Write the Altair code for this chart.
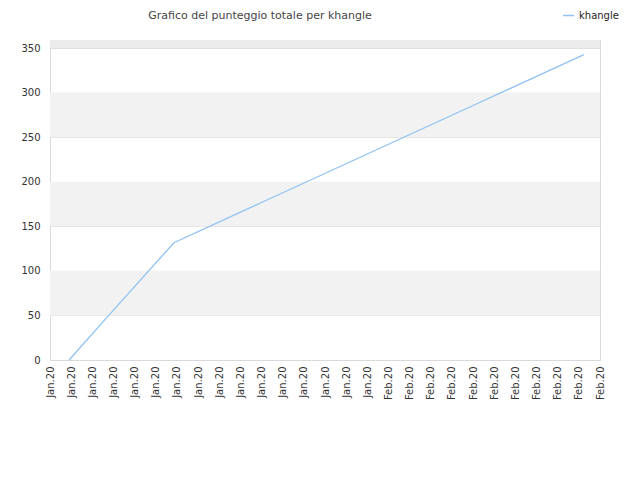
import altair as alt
import pandas as pd

# Data (x in tick-index units, 0..26)
tick_labels = ["Jan.20"] * 16 + ["Feb.20"] * 11
point_pos = [0.9, 3.0, 5.86, 10.0, 15.0, 20.0, 25.24]
point_vals = [0.0, 56.0, 131.6, 176.7, 231.1, 285.5, 342.6]
series_name = ["khangle"] * len(point_pos)
band_lo = [50, 150, 250]
band_hi = [100, 200, 300]
title_text = "Grafico del punteggio totale per khangle"

FONT = "DejaVu Sans"
YMAX = 359

line_df = pd.DataFrame({"t": point_pos, "v": point_vals, "serie": series_name})
band_df = pd.DataFrame({"lo": band_lo, "hi": band_hi})
top_df = pd.DataFrame({"lo": [350], "hi": [YMAX]})
title_df = pd.DataFrame({"txt": [title_text]})

xscale = alt.Scale(domain=[0, 26], nice=False, zero=False)
yscale = alt.Scale(domain=[0, YMAX], nice=False)

label_js = "[" + ",".join('"%s"' % s for s in tick_labels) + "]"

bands = alt.Chart(band_df).mark_rect(color="#f2f2f2").encode(
    y=alt.Y("lo:Q", scale=yscale),
    y2="hi:Q",
    x=alt.value(0),
    x2=alt.value(550),
)
topband = alt.Chart(top_df).mark_rect(color="#ececec").encode(
    y=alt.Y("lo:Q", scale=yscale),
    y2="hi:Q",
    x=alt.value(0),
    x2=alt.value(550),
)

title_mark = alt.Chart(title_df).mark_text(
    font=FONT, fontSize=11, color="#444444", align="center", baseline="middle"
).encode(
    text="txt:N",
    x=alt.value(210),
    y=alt.value(-24),
)

line = alt.Chart(line_df).mark_line(strokeWidth=1.3).encode(
    x=alt.X(
        "t:Q",
        scale=xscale,
        axis=alt.Axis(
            title=None,
            values=list(range(27)),
            labelExpr=label_js + "[datum.value]",
            labelAngle=270,
            grid=False,
            ticks=False,
            domainColor="#d9d9d9",
            labelColor="#333333",
            labelFont=FONT,
            labelFontSize=10,
            labelPadding=6,
        ),
    ),
    y=alt.Y(
        "v:Q",
        scale=yscale,
        axis=alt.Axis(
            title=None,
            values=[0, 50, 100, 150, 200, 250, 300, 350],
            grid=True,
            gridColor="#e0e0e0",
            ticks=False,
            domainColor="#d9d9d9",
            labelColor="#333333",
            labelFont=FONT,
            labelFontSize=10,
            labelPadding=10,
        ),
    ),
    color=alt.Color(
        "serie:N",
        scale=alt.Scale(range=["#90c2f3"]),
        legend=alt.Legend(
            title=None,
            orient="none",
            legendX=512,
            legendY=-31,
            symbolType="stroke",
            symbolSize=120,
            symbolStrokeWidth=1.5,
            labelFont=FONT,
            labelFontSize=10,
            labelColor="#222222",
        ),
    ),
)

chart = (
    alt.layer(bands, topband, line, title_mark)
    .properties(
        width=550,
        height=320,
        padding={"left": 42, "top": 32, "right": 32, "bottom": 112},
        autosize=alt.AutoSizeParams(type="none"),
    )
    .configure_view(stroke="#d9d9d9")
)

chart.save("out.html", embed_options={"renderer": "svg", "actions": False})
